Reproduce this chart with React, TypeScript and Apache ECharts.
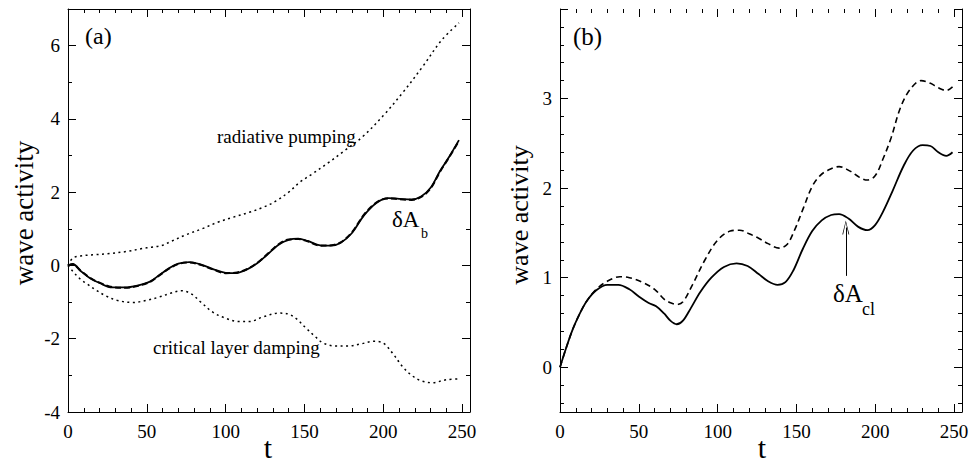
import React, { useEffect, useRef } from 'react';
import * as echarts from 'echarts';

// ---------- data (panel a) ----------
const radT = [0, 3, 8, 16, 25, 37, 47, 53, 60, 65, 75, 85, 95, 105, 115, 124, 132, 140, 147, 155, 165, 175, 187, 200, 212, 225, 237, 248];
const radV = [0, 0.2, 0.26, 0.29, 0.32, 0.38, 0.46, 0.5, 0.55, 0.65, 0.84, 1.0, 1.18, 1.32, 1.45, 1.59, 1.76, 2.0, 2.27, 2.5, 2.8, 3.12, 3.52, 4.09, 4.7, 5.43, 6.15, 6.62];

const critT = [0, 3, 8, 12, 18, 24, 31, 41, 50, 58, 65, 72, 78, 84, 92, 100, 108, 115, 124, 134, 140, 145, 151, 157, 162, 170, 178, 186, 194, 200, 206, 212, 218, 224, 231, 240, 247];
const critV = [0, -0.16, -0.38, -0.5, -0.68, -0.83, -0.95, -1.01, -0.95, -0.86, -0.76, -0.69, -0.77, -0.99, -1.28, -1.44, -1.53, -1.53, -1.4, -1.3, -1.33, -1.46, -1.71, -1.95, -2.12, -2.2, -2.2, -2.14, -2.07, -2.12, -2.4, -2.75, -3.0, -3.15, -3.2, -3.12, -3.1];

const bT = [0, 3, 8, 14, 20, 28, 36, 44, 52, 58, 64, 70, 77, 84, 92, 100, 106, 113, 120, 127, 134, 140, 146, 152, 160, 167, 173, 180, 188, 196, 203, 210, 218, 224, 230, 236, 242, 248];
const bSolidV = [0, 0.04, -0.15, -0.35, -0.48, -0.6, -0.6, -0.55, -0.44, -0.26, -0.08, 0.05, 0.09, 0.03, -0.1, -0.2, -0.21, -0.12, 0.06, 0.32, 0.58, 0.7, 0.73, 0.67, 0.55, 0.54, 0.62, 0.88, 1.38, 1.72, 1.84, 1.82, 1.8, 1.88, 2.12, 2.58, 2.98, 3.42];
const bDashV = [0, 0.03, -0.14, -0.34, -0.47, -0.59, -0.61, -0.56, -0.45, -0.27, -0.09, 0.04, 0.08, 0.02, -0.11, -0.21, -0.2, -0.11, 0.07, 0.33, 0.59, 0.71, 0.72, 0.66, 0.54, 0.55, 0.63, 0.9, 1.4, 1.73, 1.83, 1.81, 1.79, 1.87, 2.1, 2.56, 2.97, 3.4];

// ---------- data (panel b) ----------
const clSolidT = [0, 4, 8, 12, 17, 23, 30, 37, 44, 50, 56, 61, 66, 70, 74, 78, 83, 89, 96, 104, 112, 119, 126, 132, 138, 143, 148, 154, 160, 166, 172, 177, 183, 189, 195, 200, 205, 211, 218, 224, 230, 235, 240, 245, 249];
const clSolidV = [0, 0.22, 0.42, 0.58, 0.74, 0.86, 0.92, 0.92, 0.87, 0.79, 0.72, 0.68, 0.6, 0.52, 0.48, 0.52, 0.66, 0.84, 1.0, 1.12, 1.16, 1.13, 1.04, 0.96, 0.92, 0.95, 1.08, 1.32, 1.52, 1.64, 1.7, 1.71, 1.66, 1.57, 1.53, 1.59, 1.74, 1.97, 2.25, 2.42, 2.48, 2.47, 2.4, 2.36, 2.4];

const clDashT = [0, 4, 8, 12, 17, 23, 30, 38, 44, 52, 60, 66, 70, 74, 78, 84, 92, 100, 108, 114, 120, 126, 132, 139, 144, 149, 154, 160, 165, 170, 177, 184, 190, 195, 200, 205, 210, 216, 222, 229, 235, 240, 245, 249];
const clDashV = [0, 0.22, 0.42, 0.58, 0.74, 0.87, 0.96, 1.01, 1.0, 0.95, 0.87, 0.76, 0.72, 0.7, 0.73, 0.92, 1.2, 1.42, 1.52, 1.53, 1.49, 1.44, 1.38, 1.33, 1.37, 1.54, 1.76, 2.02, 2.14, 2.2, 2.24, 2.19, 2.12, 2.09, 2.14, 2.33, 2.56, 2.9, 3.1, 3.2, 3.17, 3.12, 3.09, 3.13];

// arrow annotation (data coords): t, from value, to value
const arrowT = 181.3;
const arrowFrom = 1.02;
const arrowTo = 1.56;

const xMax = 255;
const yRangeA = [-4, 7];
const yRangeB = [-0.5, 4];

const FONT = '"Liberation Serif", "Times New Roman", serif';

const zip = (t: number[], v: number[]) => t.map((x, i) => [x, v[i]]);

const lineStyleAxis = { color: '#000', width: 1 };

function makeX(gridIndex: number, topLine: boolean) {
  const base = {
    type: 'value',
    gridIndex,
    min: 0,
    max: xMax,
    splitLine: { show: false },
    axisLabel: { show: false },
  };
  return [
    {
      ...base,
      position: 'bottom',
      interval: 50,
      axisLine: { show: true, onZero: false, lineStyle: lineStyleAxis },
      axisTick: { show: true, inside: true, length: 8, lineStyle: lineStyleAxis },
      axisLabel: {
        show: true,
        margin: 10,
        color: '#000',
        fontFamily: FONT,
        fontSize: 19,
        formatter: (v: number) => (v % 50 === 0 ? String(v) : ''),
      },
    },
    {
      ...base,
      position: 'bottom',
      interval: 10,
      axisLine: { show: false, onZero: false },
      axisTick: { show: true, inside: true, length: 4, lineStyle: lineStyleAxis },
    },
    {
      ...base,
      position: 'top',
      interval: 50,
      axisLine: { show: topLine, onZero: false, lineStyle: lineStyleAxis },
      axisTick: { show: true, inside: true, length: 8, lineStyle: lineStyleAxis },
    },
    {
      ...base,
      position: 'top',
      interval: 10,
      axisLine: { show: false, onZero: false },
      axisTick: { show: true, inside: true, length: 4, lineStyle: lineStyleAxis },
    },
  ];
}

function makeY(gridIndex: number, range: number[], major: any, minor: any, fmt: (v: number) => string) {
  const base = {
    type: 'value',
    gridIndex,
    min: range[0],
    max: range[1],
    splitLine: { show: false },
    axisLabel: { show: false },
  };
  const axes: any[] = [];
  ['left', 'right'].forEach((pos) => {
    axes.push({
      ...base,
      ...major,
      position: pos,
      axisLine: { show: true, onZero: false, lineStyle: lineStyleAxis },
      axisTick: { show: true, inside: true, length: 8, lineStyle: lineStyleAxis },
      axisLabel:
        pos === 'left'
          ? { show: true, margin: 8, color: '#000', fontFamily: FONT, fontSize: 19, formatter: fmt }
          : { show: false },
    });
    axes.push({
      ...base,
      ...minor,
      position: pos,
      axisLine: { show: false, onZero: false },
      axisTick: { show: true, inside: true, length: 4, lineStyle: lineStyleAxis },
    });
  });
  return axes;
}

const chevron = 'path://M0,0 L-3,14 L-2.3,14 L0,2 L2.3,14 L3,14 Z';

export default function App() {
  const ref = useRef<HTMLDivElement>(null);
  useEffect(() => {
    if (!ref.current) return;
    const chart = echarts.init(ref.current, undefined, { renderer: 'svg' });
    const xAxes = [...makeX(0, true), ...makeX(1, false)];
    const yAxes = [
      ...makeY(0, yRangeA, { interval: 2 }, { interval: 1 }, (v: number) => (v % 2 === 0 && v <= 6 ? String(v) : '')),
      ...makeY(
        1,
        yRangeB,
        { splitNumber: 5, minInterval: 1, maxInterval: 1 },
        { splitNumber: 22, minInterval: 0.2, maxInterval: 0.2 },
        (v: number) => (Number.isInteger(v) && v <= 3 ? String(v) : '')
      ),
    ];
    const common = { type: 'line', showSymbol: false, symbol: 'none', smooth: 0.35, silent: true };
    const option: any = {
      animation: false,
      backgroundColor: '#fff',
      grid: [
        { left: 68, top: 9, width: 402, height: 403, outerBoundsMode: 'none' },
        { left: 560, top: 9, width: 402, height: 403, outerBoundsMode: 'none' },
      ],
      xAxis: xAxes,
      yAxis: yAxes,
      series: [
        { ...common, name: 'radiative pumping', xAxisIndex: 0, yAxisIndex: 0, data: zip(radT, radV), lineStyle: { color: '#000', width: 1.5, type: [2, 3.5] } },
        { ...common, name: 'critical layer damping', xAxisIndex: 0, yAxisIndex: 0, data: zip(critT, critV), lineStyle: { color: '#000', width: 1.5, type: [2, 3.5] } },
        { ...common, name: 'dA_b dashed', xAxisIndex: 0, yAxisIndex: 0, data: zip(bT, bDashV), lineStyle: { color: '#000', width: 2, type: [6, 3] } },
        { ...common, name: 'dA_b', xAxisIndex: 0, yAxisIndex: 0, data: zip(bT, bSolidV), lineStyle: { color: '#000', width: 1.8 } },
        { ...common, name: 'dashed b', xAxisIndex: 4, yAxisIndex: 4, data: zip(clDashT, clDashV), lineStyle: { color: '#000', width: 1.6, type: [6, 4] } },
        {
          ...common,
          name: 'dA_cl',
          xAxisIndex: 4,
          yAxisIndex: 4,
          data: zip(clSolidT, clSolidV),
          lineStyle: { color: '#000', width: 1.8 },
          markLine: {
            silent: true,
            animation: false,
            symbol: ['none', chevron],
            symbolSize: [7, 14],
            label: { show: false },
            lineStyle: { color: '#000', width: 1, type: 'solid' },
            itemStyle: { color: '#000' },
            emphasis: { disabled: true },
            data: [[{ coord: [arrowT, arrowFrom] }, { coord: [arrowT, arrowTo] }]],
          },
        },
      ],
      graphic: [
        { type: 'text', x: 85, y: 36, style: { text: '(a)', font: `24px ${FONT}`, fill: '#000', textAlign: 'left', textVerticalAlign: 'middle' } },
        { type: 'text', x: 573, y: 36, style: { text: '(b)', font: `25px ${FONT}`, fill: '#000', textAlign: 'left', textVerticalAlign: 'middle' } },
        { type: 'text', x: 217, y: 136, style: { text: 'radiative pumping', font: `19px ${FONT}`, fill: '#000', textAlign: 'left', textVerticalAlign: 'middle' } },
        { type: 'text', x: 153, y: 347, style: { text: 'critical layer damping', font: `19px ${FONT}`, fill: '#000', textAlign: 'left', textVerticalAlign: 'middle' } },
        { type: 'text', x: 392, y: 219, style: { text: 'δA', font: `23px ${FONT}`, fill: '#000', textAlign: 'left', textVerticalAlign: 'middle' } },
        { type: 'text', x: 421, y: 233, style: { text: 'b', font: `14px ${FONT}`, fill: '#000', textAlign: 'left', textVerticalAlign: 'middle' } },
        { type: 'text', x: 833, y: 293, style: { text: 'δA', font: `25px ${FONT}`, fill: '#000', textAlign: 'left', textVerticalAlign: 'middle' } },
        { type: 'text', x: 862, y: 309, style: { text: 'cl', font: `18px ${FONT}`, fill: '#000', textAlign: 'left', textVerticalAlign: 'middle' } },
        { type: 'text', x: 24, y: 213, rotation: Math.PI / 2, style: { text: 'wave activity', font: `27px ${FONT}`, fill: '#000', textAlign: 'center', textVerticalAlign: 'middle' } },
        { type: 'text', x: 519, y: 215, rotation: Math.PI / 2, style: { text: 'wave activity', font: `26px ${FONT}`, fill: '#000', textAlign: 'center', textVerticalAlign: 'middle' } },
        { type: 'text', x: 268, y: 447, style: { text: 't', font: `30px ${FONT}`, fill: '#000', textAlign: 'center', textVerticalAlign: 'middle' } },
        { type: 'text', x: 762, y: 447, style: { text: 't', font: `30px ${FONT}`, fill: '#000', textAlign: 'center', textVerticalAlign: 'middle' } },
      ],
    };
    chart.setOption(option);
    return () => chart.dispose();
  }, []);
  return (
    <div
      ref={ref}
      style={{ position: 'fixed', left: 0, top: 0, width: 969, height: 465, background: '#fff' }}
    />
  );
}
